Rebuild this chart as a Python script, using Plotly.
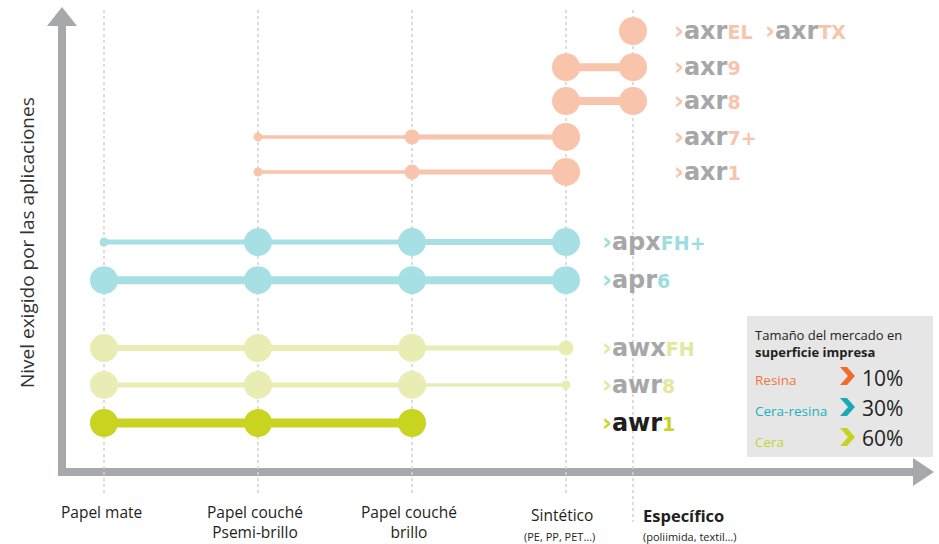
import plotly.graph_objects as go

W, H = 939, 544

# ---------------- data ----------------
tick_main = ["Papel mate", "Papel couché<br>Psemi-brillo", "Papel couché<br>brillo", "Sintético", "Específico"]
tick_sub = ["", "", "", "(PE, PP, PET...)", "(poliimida, textil…)"]

products = ["axrEL", "axr9", "axr8", "axr7+", "axr1", "apxFH+", "apr6", "awxFH", "awr8", "awr1"]
prefix = ["axr", "axr", "axr", "axr", "axr", "apx", "apr", "awx", "awr", "awr"]
suffix = ["EL", "9", "8", "7+", "1", "FH+", "6", "FH", "8", "1"]
extra_label = ("axr", "TX")  # shares the axrEL row

# required level of the applications (vertical position of each product)
level = [11.51, 10.54, 9.63, 8.67, 7.73, 5.85, 4.83, 3.01, 2.02, 1.0]

# suitability rating per substrate (0 = not suitable, 1 = low, 2 = medium, 3 = high)
rating = [
    [0, 0, 0, 0, 3],
    [0, 0, 0, 3, 3],
    [0, 0, 0, 3, 3],
    [0, 1, 2, 3, 0],
    [0, 1, 2, 3, 0],
    [1, 3, 3, 3, 0],
    [3, 3, 3, 3, 0],
    [3, 3, 3, 2, 0],
    [3, 3, 3, 1, 0],
    [3, 3, 3, 0, 0],
]

legend_title = "Tamaño del mercado en"
legend_title_bold = "superficie impresa"
legend_labels = ["Resina", "Cera-resina", "Cera"]
legend_share = [10, 30, 60]

y_title = "Nivel exigido por las aplicaciones"

# ---------------- style ----------------
cat_x = [0, 1, 2, 3, 3.435]
size_map = {1: 9, 2: 15, 3: 28}
seg_widths = {
    "axrEL": [], "axr9": [8], "axr8": [8], "axr7+": [3.5, 5], "axr1": [3.5, 5],
    "apxFH+": [5, 5, 6], "apr6": [8, 8, 8], "awxFH": [6, 6, 5], "awr8": [5, 5, 3.5], "awr1": [9, 9],
}
SALMON = "#F8C4AB"
CYAN = "#A6E0E4"
LIME_L = "#E9EDB4"
LIME_D = "#C9D421"
GRAY_T = "#A7A7A9"
prod_color = [SALMON] * 5 + [CYAN] * 2 + [LIME_L] * 2 + [LIME_D]
label_accent = [SALMON] * 5 + ["#9CDCE2"] * 2 + ["#E3E89E"] * 2 + [LIME_D]
label_main = [GRAY_T] * 9 + ["#1E1E1E"]
label_px = [672] * 5 + [600] * 5
legend_colors = ["#F26A2E", "#19AAB6", "#C6D21E"]
legend_text_colors = ["#F3763D", "#22B1BC", "#C9D42C"]


def px(x):
    return x / W


def py(y):
    return 1 - y / H


fig = go.Figure()

# lines and markers
for i, name in enumerate(products):
    pts = [(cat_x[j], size_map[r]) for j, r in enumerate(rating[i]) if r > 0]
    xs = [p[0] for p in pts]
    widths = seg_widths[name]
    for k in range(len(xs) - 1):
        fig.add_trace(go.Scatter(
            x=[xs[k], xs[k + 1]], y=[level[i], level[i]], mode="lines",
            line=dict(color=prod_color[i], width=widths[k]),
            hoverinfo="skip", showlegend=False))
    fig.add_trace(go.Scatter(
        x=xs, y=[level[i]] * len(xs), mode="markers",
        marker=dict(color=prod_color[i], size=[p[1] for p in pts], opacity=1, line=dict(width=0)),
        name=name, showlegend=False))

shapes = []
# axes arrows (single path)
ax_path = [(58, 476), (58, 26), (47, 26), (62, 7), (77, 26), (66, 26), (66, 468),
           (913, 468), (913, 458), (934, 472), (913, 486), (913, 476)]
path = "M " + " L ".join(f"{px(a):.5f},{py(b):.5f}" for a, b in ax_path) + " Z"
shapes.append(dict(type="path", xref="paper", yref="paper", path=path,
                   fillcolor="#A7A8AA", line=dict(width=0), layer="below"))
# dotted guides
for j, xv in enumerate(cat_x):
    bottom = 522 if j == 4 else 495
    shapes.append(dict(type="line", xref="x", yref="paper", x0=xv, x1=xv,
                       y0=py(10), y1=py(bottom), layer="below",
                       line=dict(color="#D2D2D4", width=1.5, dash="dot")))
# legend box
shapes.append(dict(type="rect", xref="paper", yref="paper", x0=px(747), x1=px(933),
                   y0=py(457), y1=py(316), fillcolor="#E6E6E7", line=dict(width=0), layer="above"))
# legend chevrons
for k, cy in enumerate([376, 407, 437]):
    pts = [(840, cy - 9), (847, cy - 9), (855, cy), (847, cy + 9), (840, cy + 9), (848, cy)]
    p = "M " + " L ".join(f"{px(a):.5f},{py(b):.5f}" for a, b in pts) + " Z"
    shapes.append(dict(type="path", xref="paper", yref="paper", path=p,
                       fillcolor=legend_colors[k], line=dict(width=0), layer="above"))

ann = []
TXT = "#231F20"
# y title
ann.append(dict(text=y_title, x=px(27), y=py(243), xref="paper", yref="paper",
                xanchor="center", yanchor="middle",
                textangle=-90, showarrow=False, font=dict(family="Open Sans", size=19, color="#333333")))
# x labels
for j, t in enumerate(tick_main):
    if j < 3:
        ann.append(dict(text=t, x=cat_x[j], xshift=-3, y=py(500), xref="x", yref="paper", xanchor="center",
                        yanchor="top", showarrow=False, borderpad=0,
                        font=dict(family="Open Sans", size=15.5, color=TXT)))
    elif j == 3:
        ann.append(dict(text=t, x=cat_x[j], xshift=-4, y=py(515), xref="x", yref="paper",
                        xanchor="center", yanchor="middle", showarrow=False,
                        font=dict(family="Open Sans", size=15.5, color=TXT)))
        ann.append(dict(text=tick_sub[j], x=cat_x[j], xshift=-7, y=py(536), xref="x", yref="paper",
                        xanchor="center", yanchor="middle", showarrow=False,
                        font=dict(family="Open Sans", size=11, color=TXT)))
    else:
        ann.append(dict(text="<b>" + t + "</b>", x=cat_x[j], xshift=8, y=py(515), xref="x",
                        yref="paper", xanchor="left", yanchor="middle", showarrow=False,
                        font=dict(family="Open Sans", size=16.5, color=TXT)))
        ann.append(dict(text=tick_sub[j], x=cat_x[j], xshift=8, y=py(536), xref="x", yref="paper",
                        xanchor="left", yanchor="middle", showarrow=False,
                        font=dict(family="Open Sans", size=11, color=TXT)))


def logo(pre, suf, main_c, acc_c):
    return (f"<span style='color:{acc_c}'>›</span>"
            f"<span style='color:{main_c}'>{pre}</span>"
            f"<span style='color:{acc_c};font-size:19px'>{suf}</span>")


for i in range(len(products)):
    ann.append(dict(text=logo(prefix[i], suffix[i], label_main[i], label_accent[i]),
                    x=px(label_px[i]), y=level[i], xref="paper", yref="y", xanchor="left",
                    yanchor="middle", showarrow=False,
                    font=dict(family="DejaVu Sans", size=24, weight="bold")))
ann.append(dict(text=logo(extra_label[0], extra_label[1], GRAY_T, SALMON),
                x=px(763), y=level[0], xref="paper", yref="y", xanchor="left",
                yanchor="middle", showarrow=False,
                font=dict(family="DejaVu Sans", size=24, weight="bold")))

# legend texts
ann.append(dict(text=legend_title + "<br><b>" + legend_title_bold + "</b>", x=px(753), y=py(343),
                xref="paper", yref="paper", xanchor="left", yanchor="middle", align="left",
                showarrow=False, font=dict(family="Open Sans", size=13, color=TXT)))
for k, (lab, val) in enumerate(zip(legend_labels, legend_share)):
    ann.append(dict(text=lab, x=px(753), y=py([380, 411, 442][k]), xref="paper", yref="paper",
                    xanchor="left", yanchor="middle", showarrow=False,
                    font=dict(family="Open Sans", size=13.5, color=legend_text_colors[k])))
    ann.append(dict(text=f"{val}%", x=px(860), y=py([378, 408, 438][k]), xref="paper", yref="paper",
                    xanchor="left", yanchor="middle", showarrow=False,
                    font=dict(family="Open Sans", size=21, color=TXT)))

fig.update_layout(
    width=W, height=H, margin=dict(l=0, r=0, t=0, b=0),
    paper_bgcolor="white", plot_bgcolor="white",
    xaxis=dict(range=[-104 / 154, (W - 104) / 154], visible=False, fixedrange=True),
    yaxis=dict(range=[1 - (H - 423) / 37.3, 1 + 423 / 37.3], visible=False, fixedrange=True),
    shapes=shapes, annotations=ann, showlegend=False,
)

fig.write_html("out.html", config={"displayModeBar": False},
               post_script="document.body.style.margin='0';document.body.style.overflow='hidden';")
